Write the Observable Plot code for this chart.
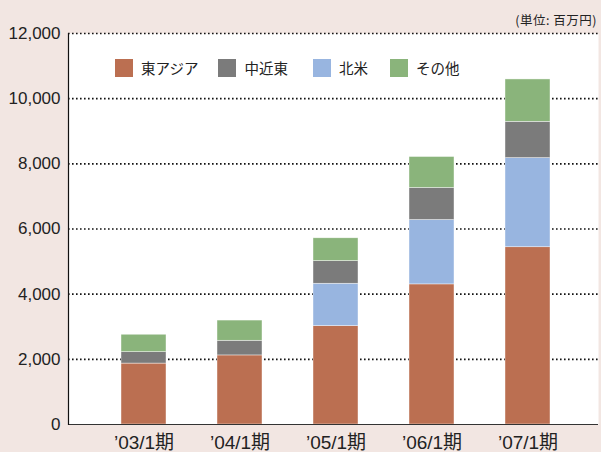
<!DOCTYPE html>
<html>
<head>
<meta charset="utf-8">
<script src="https://cdn.jsdelivr.net/npm/d3@7"></script>
<script src="https://cdn.jsdelivr.net/npm/@observablehq/plot@0.6"></script>
<style>
  html, body { margin: 0; padding: 0; background: #f2e6e2; }
  #wrap { position: relative; width: 601px; height: 452px; overflow: hidden; font-family: "Liberation Sans", "Noto Sans CJK JP", sans-serif; }
  #unit { position: absolute; right: 4px; top: 10px; font-size: 12.5px; letter-spacing: 0.5px; color: #222; font-family: "Noto Sans CJK JP", sans-serif; white-space: nowrap; }
  #legend { position: absolute; left: 115px; top: 58px; display: flex; font-size: 14.5px; color: #222; font-family: "Noto Sans CJK JP", sans-serif; }
  #legend .item { display: flex; align-items: center; height: 19px; }
  #legend .sw { width: 18px; height: 18px; margin-right: 8px; }
</style>
</head>
<body>
<div id="wrap">
  <div id="chart"></div>
  <div id="unit">(単位: 百万円)</div>
  <div id="legend"></div>
</div>
<script>
const periods = ["’03/1期", "’04/1期", "’05/1期", "’06/1期", "’07/1期"];
const seriesNames = ["東アジア", "北米", "中近東", "その他"];
const legendOrder = ["東アジア", "中近東", "北米", "その他"];
const seriesColors = ["#bb6f51", "#98b5e0", "#7b7b7b", "#8ab47b"];
const eastAsia = [1870, 2120, 3020, 4300, 5440];
const northAmerica = [0, 0, 1300, 1975, 2735];
const middleEast = [350, 450, 695, 985, 1115];
const other = [535, 620, 700, 950, 1300];
const yTicks = [0, 2000, 4000, 6000, 8000, 10000, 12000];
const gridTicks = [2000, 4000, 6000, 8000, 10000, 12000];

const seriesValues = [eastAsia, northAmerica, middleEast, other];
const rows = [];
seriesNames.forEach((s, i) => {
  periods.forEach((p, j) => rows.push({period: p, series: s, value: seriesValues[i][j]}));
});

const chart = Plot.plot({
  width: 601,
  height: 452,
  marginLeft: 68,
  marginRight: 3,
  marginTop: 33,
  marginBottom: 28,
  style: {background: "transparent", fontFamily: "'Liberation Sans', 'Noto Sans CJK JP', sans-serif", fontSize: "17px", color: "#222"},
  x: {domain: periods, paddingInner: 0.53, paddingOuter: 0.52, align: 0.53, label: null},
  y: {domain: [0, 12000], label: null},
  color: {domain: seriesNames, range: seriesColors},
  marks: [
    Plot.frame({fill: "white", stroke: null}),
    Plot.ruleY(gridTicks, {stroke: "#111", strokeWidth: 1.6, strokeDasharray: "1.6,2.4"}),
    Plot.barY(rows, Plot.stackY({order: seriesNames}, {x: "period", y: "value", fill: "series", stroke: "white", strokeWidth: 0.6, strokeOpacity: 0.7})),
    Plot.ruleY([0], {stroke: "#333", strokeWidth: 1.2}),
    Plot.frame({anchor: "left", stroke: "#111", strokeWidth: 1.2}),
    Plot.axisY({ticks: yTicks, tickSize: 0, tickPadding: 8, tickFormat: d3.format(","), fontSize: 17, label: null}),
    Plot.axisX({tickSize: 0, tickPadding: 11, fontSize: 19, label: null})
  ]
});
document.getElementById("chart").appendChild(chart);

const legend = document.getElementById("legend");
const gaps = [20, 25, 22, 0];
legendOrder.forEach((name, i) => {
  const item = document.createElement("div");
  item.className = "item";
  item.style.marginRight = gaps[i] + "px";
  const sw = document.createElement("div");
  sw.className = "sw";
  sw.style.background = seriesColors[seriesNames.indexOf(name)];
  const t = document.createElement("span");
  t.textContent = name;
  item.appendChild(sw);
  item.appendChild(t);
  legend.appendChild(item);
});
</script>
</body>
</html>
